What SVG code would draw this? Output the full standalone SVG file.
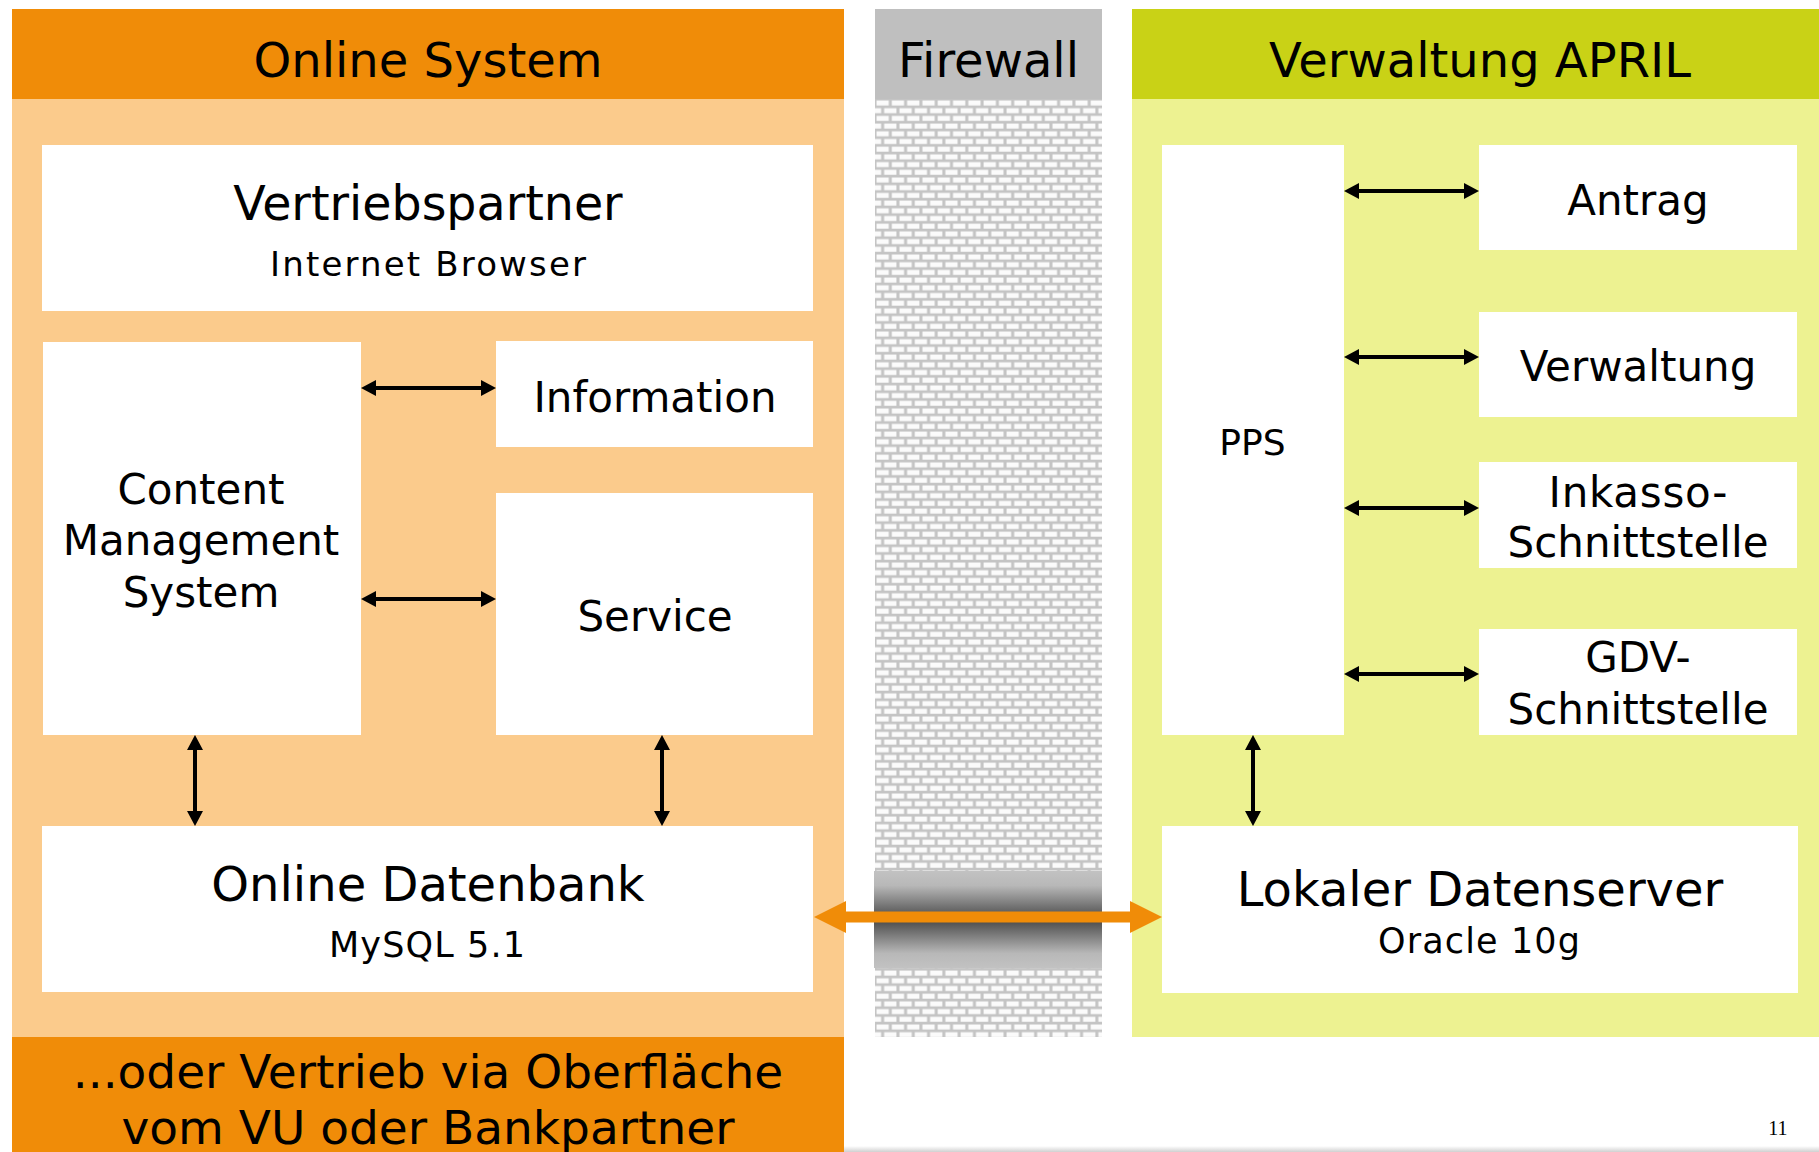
<svg xmlns="http://www.w3.org/2000/svg" width="1819" height="1152" viewBox="0 0 1819 1152">
<style>
.t{font-family:"DejaVu Sans","Verdana",sans-serif;fill:#000;text-anchor:middle}
.h{font-size:48px}
.m{font-size:42px}
.box{fill:#fff}
.con{stroke:#000;stroke-width:4;fill:none;marker-start:url(#ah);marker-end:url(#ah)}
</style>
<defs>
<marker id="ah" viewBox="0 -8 15 16" refX="5" refY="0" markerWidth="15" markerHeight="16" markerUnits="userSpaceOnUse" orient="auto-start-reverse">
<path d="M0,-8 L15,0 L0,8 Z" fill="#000"/>
</marker>
<marker id="oh" viewBox="0 -16 32 32" refX="12" refY="0" markerWidth="32" markerHeight="32" markerUnits="userSpaceOnUse" orient="auto-start-reverse">
<path d="M0,-16 L32,0 L0,16 Z" fill="#F08C08"/>
</marker>
<pattern id="brick" x="875" y="99" width="15.3" height="15.4" patternUnits="userSpaceOnUse">
<rect width="15.3" height="15.4" fill="#c4c4c4"/>
<rect x="1.5" y="1.5" width="12.3" height="5" fill="#fbfbfb"/>
<rect x="-6.15" y="9.2" width="12.3" height="5" fill="#fbfbfb"/>
<rect x="9.15" y="9.2" width="12.3" height="5" fill="#fbfbfb"/>
</pattern>
<linearGradient id="band" x1="0" y1="0" x2="0" y2="1">
<stop offset="0" stop-color="#c2c2c2"/>
<stop offset="0.15" stop-color="#b8b8b8"/>
<stop offset="0.5" stop-color="#484848"/>
<stop offset="0.85" stop-color="#b8b8b8"/>
<stop offset="1" stop-color="#c2c2c2"/>
</linearGradient>
<linearGradient id="shadow" x1="0" y1="0" x2="0" y2="1">
<stop offset="0" stop-color="#ffffff"/>
<stop offset="1" stop-color="#d0d0d0"/>
</linearGradient>
</defs>

<rect x="0" y="0" width="1819" height="1152" fill="#fff"/>
<rect x="844" y="1146" width="975" height="6" fill="url(#shadow)"/>

<!-- Online System panel -->
<g id="panel-online">
<rect x="12" y="99" width="832" height="938" fill="#FBCB8C"/>
<rect x="12" y="9" width="832" height="90" fill="#F08C08"/>
<text class="t h" x="428" y="77">Online System</text>
<rect x="12" y="1037" width="832" height="115" fill="#F08C08"/>
<text class="t" style="font-size:47px" x="428" y="1088">...oder Vertrieb via Oberfläche</text>
<text class="t" style="font-size:47px" x="428" y="1144">vom VU oder Bankpartner</text>
</g>

<!-- Firewall -->
<g id="firewall">
<rect x="875" y="99" width="227" height="938" fill="url(#brick)"/>
<rect x="875" y="9" width="227" height="90" fill="#BFBFBF"/>
<text class="t h" x="988.5" y="77">Firewall</text>
<rect x="874" y="871" width="228" height="97" fill="url(#band)"/>
</g>

<!-- Verwaltung APRIL panel -->
<g id="panel-april">
<rect x="1132" y="99" width="687" height="938" fill="#EDF291"/>
<rect x="1132" y="9" width="687" height="90" fill="#C9D216"/>
<text class="t h" x="1480" y="77">Verwaltung APRIL</text>
</g>

<g id="node-vertriebspartner">
<rect class="box" x="42" y="145" width="771" height="166"/>
<text class="t" style="font-size:47.5px" x="428" y="220">Vertriebspartner</text>
<text class="t" style="font-size:34px" x="428" y="276" textLength="316" lengthAdjust="spacing">Internet Browser</text>
</g>

<g id="node-cms">
<rect class="box" x="43" y="342" width="318" height="393"/>
<text class="t m" x="201" y="504">Content</text>
<text class="t m" x="201" y="555">Management</text>
<text class="t m" x="201" y="607">System</text>
</g>

<g id="node-information">
<rect class="box" x="496" y="341" width="317" height="106"/>
<text class="t m" x="655" y="412">Information</text>
</g>

<g id="node-service">
<rect class="box" x="496" y="493" width="317" height="242"/>
<text class="t m" x="655" y="631">Service</text>
</g>

<g id="node-online-datenbank">
<rect class="box" x="42" y="826" width="771" height="166"/>
<text class="t h" x="428" y="901">Online Datenbank</text>
<text class="t" style="font-size:35px" x="427" y="957" textLength="196" lengthAdjust="spacing">MySQL 5.1</text>
</g>

<g id="node-pps">
<rect class="box" x="1162" y="145" width="182" height="590"/>
<text class="t" style="font-size:36px" x="1252.5" y="455">PPS</text>
</g>

<g id="node-antrag">
<rect class="box" x="1479" y="145" width="318" height="105"/>
<text class="t m" x="1638" y="215">Antrag</text>
</g>

<g id="node-verwaltung">
<rect class="box" x="1479" y="312" width="318" height="105"/>
<text class="t m" x="1638" y="381">Verwaltung</text>
</g>

<g id="node-inkasso">
<rect class="box" x="1479" y="462" width="318" height="106"/>
<text class="t m" x="1638" y="507" textLength="179" lengthAdjust="spacing">Inkasso-</text>
<text class="t m" x="1638" y="557">Schnittstelle</text>
</g>

<g id="node-gdv">
<rect class="box" x="1479" y="629" width="318" height="106"/>
<text class="t m" x="1638" y="672">GDV-</text>
<text class="t m" x="1638" y="724">Schnittstelle</text>
</g>

<g id="node-lokaler-datenserver">
<rect class="box" x="1162" y="826" width="636" height="167"/>
<text class="t h" x="1480" y="906">Lokaler Datenserver</text>
<text class="t" style="font-size:35px" x="1479" y="953" textLength="202" lengthAdjust="spacing">Oracle 10g</text>
</g>

<g id="connectors">
<line class="con" x1="371" y1="388" x2="486" y2="388"/>
<line class="con" x1="371" y1="599" x2="486" y2="599"/>
<line class="con" x1="195" y1="745" x2="195" y2="816"/>
<line class="con" x1="662" y1="745" x2="662" y2="816"/>
<line class="con" x1="1354" y1="191" x2="1469" y2="191"/>
<line class="con" x1="1354" y1="357" x2="1469" y2="357"/>
<line class="con" x1="1354" y1="508" x2="1469" y2="508"/>
<line class="con" x1="1354" y1="674" x2="1469" y2="674"/>
<line class="con" x1="1253" y1="745" x2="1253" y2="816"/>
<line x1="834" y1="917" x2="1142" y2="917" stroke="#F08C08" stroke-width="11" marker-start="url(#oh)" marker-end="url(#oh)"/>
</g>

<text x="1778" y="1135" style="font-family:'Liberation Serif','Times New Roman',serif;font-size:20px;text-anchor:middle">11</text>
</svg>
